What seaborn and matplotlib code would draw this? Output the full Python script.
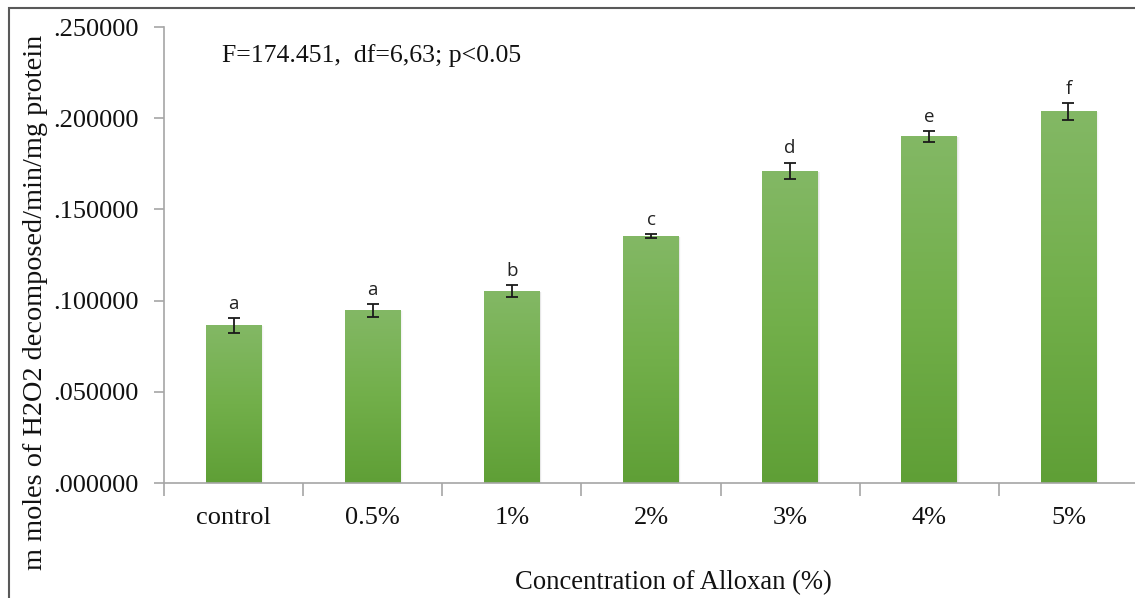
import numpy as np
import pandas as pd
import matplotlib
matplotlib.use("Agg")
import matplotlib.pyplot as plt
from matplotlib.patches import Rectangle
from matplotlib.colors import LinearSegmentedColormap
import seaborn as sns

# Catalase activity per Alloxan concentration
categories = ["control", "0.5%", "1%", "2%", "3%", "4%", "5%"]
means = [0.0864, 0.0946, 0.1052, 0.1353, 0.1712, 0.1900, 0.2037]
errors = [0.0041, 0.0036, 0.0034, 0.0012, 0.0045, 0.0028, 0.0048]
groups = ["a", "a", "b", "c", "d", "e", "f"]
y_ticks = [0.0, 0.05, 0.10, 0.15, 0.20, 0.25]
stats_text = "F=174.451,  df=6,63; p<0.05"

sns.set_theme(style="white")
plt.rcParams["font.family"] = ["Liberation Serif", "DejaVu Serif"]

df = pd.DataFrame({"conc": categories, "activity": means})

W, H = 1135, 598
fig = plt.figure(figsize=(W / 100, H / 100), dpi=100)
ax = fig.add_axes([164 / W, 1 - 483 / H, (1138 - 164) / W, (483 - 27) / H])

sns.barplot(data=df, x="conc", y="activity", order=categories,
            color="#70AD47", width=0.40, errorbar=None, ax=ax,
            saturation=1, edgecolor="none")

# vertical green gradient inside each bar
grad_cmap = LinearSegmentedColormap.from_list("bargrad", ["#5F9F36", "#72AF4A", "#83B865"])
grad = np.linspace(0, 1, 256).reshape(-1, 1)
for patch in ax.patches:
    x0, y0 = patch.get_x(), patch.get_y()
    w, h = patch.get_width(), patch.get_height()
    # soft shadow to the right of the bar
    for k, a in enumerate([0.10, 0.06, 0.03]):
        ax.add_patch(Rectangle((x0 + w, y0), 0.006 * (k + 1), h - 0.0005,
                               facecolor="#808080", alpha=a, edgecolor="none", zorder=1.5))
    img = ax.imshow(grad, extent=[x0, x0 + w, y0, y0 + h], origin="lower",
                    cmap=grad_cmap, aspect="auto", zorder=2)
    img.set_clip_path(patch)

ax.errorbar(np.arange(len(categories)), means, yerr=errors, fmt="none",
            ecolor="#1a1a1a", elinewidth=1.3, capsize=4.5, capthick=1.3, zorder=4)

for i, (m, e, g) in enumerate(zip(means, errors, groups)):
    ax.annotate(g, (i, m + e), xytext=(0, 6.5), textcoords="offset points",
                ha="center", va="baseline", fontsize=13.5,
                family=["Open Sans", "DejaVu Sans"], color="#222222", zorder=5)

ax.set_xlim(-0.5, len(categories) - 0.5)
ax.set_ylim(0, 0.25)
ax.set_yticks(y_ticks)
ax.set_yticklabels(["." + f"{v:.6f}".split(".")[1] for v in y_ticks])
ax.set_xticks(np.arange(len(categories) + 1) - 0.5, minor=True)
ax.set_xticks(np.arange(len(categories)))
ax.set_xticklabels(categories)
ax.set_xlabel("")
ax.set_ylabel("")

axis_gray = "#A6A6A6"
for side in ["top", "right"]:
    ax.spines[side].set_visible(False)
for side in ["left", "bottom"]:
    ax.spines[side].set_color(axis_gray)
    ax.spines[side].set_linewidth(1.2)

ax.tick_params(axis="y", which="major", direction="out", length=7, width=1.2,
               color=axis_gray, left=True, labelsize=19, pad=11, labelcolor="#111111")
ax.tick_params(axis="x", which="major", length=0, labelsize=19, pad=17,
               labelcolor="#111111")
ax.tick_params(axis="x", which="minor", direction="out", length=9, width=1.2,
               color=axis_gray, bottom=True)

ax.text(-0.08, 0.2345, stats_text, fontsize=18.5,
        ha="left", va="center", color="#111111")

fig.text(673 / W, 1 - 583 / H, "Concentration of Alloxan (%)", ha="center",
         va="center", fontsize=19.2, color="#111111")
fig.text(36 / W, 1 - 302 / H, "m moles of H2O2 decomposed/min/mg protein",
         ha="center", va="center", rotation=90, fontsize=20.3, color="#111111")

# outer frame of the chart area
fig.patches.append(Rectangle((9 / W, -0.2), 1.2, 1.2 - 8 / H, transform=fig.transFigure,
                             fill=False, edgecolor="#595959", linewidth=1.5))

fig.savefig("out.png", dpi=100)
